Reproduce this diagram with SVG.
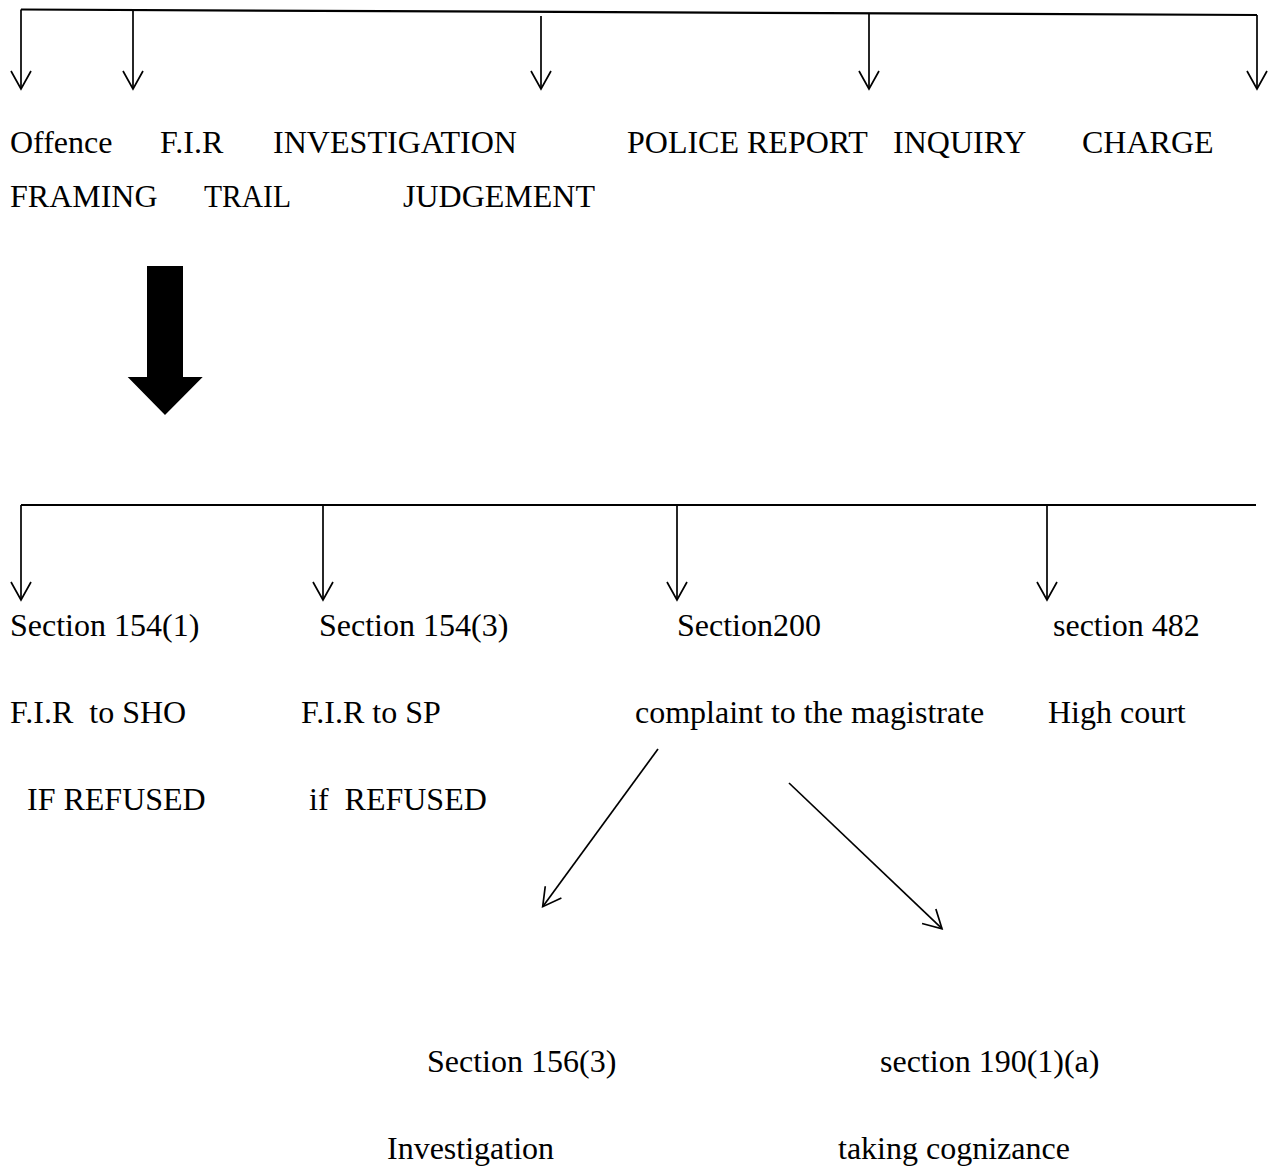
<svg xmlns="http://www.w3.org/2000/svg" width="1271" height="1169" viewBox="0 0 1271 1169">
  <style>
    text { font-family: "Liberation Serif", "Times New Roman", serif; font-size: 32px; fill: #000; white-space: pre; }
    .ln { stroke: #000; stroke-width: 1.7; fill: none; }
    .main { stroke: #000; stroke-width: 2.2; fill: none; }
  </style>
  <defs>
    <marker id="vhead" markerUnits="userSpaceOnUse" markerWidth="24" markerHeight="24" viewBox="-20 -12 24 24" refX="0" refY="0" orient="auto" overflow="visible">
      <path d="M -18 -10 L 0 0 L -18 10" fill="none" stroke="#000" stroke-width="1.7"/>
    </marker>
  </defs>
  <rect width="1271" height="1169" fill="#fff"/>

  <g id="connectors">
    <line class="main" x1="21" y1="9.5" x2="1257" y2="15"/>
    <line class="ln" x1="21" y1="9.5" x2="21" y2="89" marker-end="url(#vhead)"/>
    <line class="ln" x1="133" y1="10" x2="133" y2="89" marker-end="url(#vhead)"/>
    <line class="ln" x1="541" y1="16" x2="541" y2="89" marker-end="url(#vhead)"/>
    <line class="ln" x1="869" y1="13.5" x2="869" y2="89" marker-end="url(#vhead)"/>
    <line class="ln" x1="1257" y1="15" x2="1257" y2="89" marker-end="url(#vhead)"/>

    <path id="big-arrow" d="M147 266 H183 V377 H202.7 L165 415 L127.7 377 H147 Z" fill="#000"/>

    <line class="main" x1="21" y1="505" x2="1256" y2="505"/>
    <line class="ln" x1="21" y1="505" x2="21" y2="600" marker-end="url(#vhead)"/>
    <line class="ln" x1="323" y1="505" x2="323" y2="600" marker-end="url(#vhead)"/>
    <line class="ln" x1="677" y1="505" x2="677" y2="600" marker-end="url(#vhead)"/>
    <line class="ln" x1="1047" y1="505" x2="1047" y2="600" marker-end="url(#vhead)"/>

    <line class="ln" x1="658" y1="749" x2="542.7" y2="906.7" marker-end="url(#vhead)"/>
    <line class="ln" x1="789" y1="783" x2="942" y2="928.7" marker-end="url(#vhead)"/>
  </g>

  <g id="n-offence"><text x="10" y="152.5">Offence</text></g>
  <g id="n-fir"><text x="160" y="152.5">F.I.R</text></g>
  <g id="n-investigation"><text x="273" y="152.5" textLength="244" lengthAdjust="spacingAndGlyphs">INVESTIGATION</text></g>
  <g id="n-police-report"><text x="627" y="152.5">POLICE REPORT</text></g>
  <g id="n-inquiry"><text x="893" y="152.5">INQUIRY</text></g>
  <g id="n-charge"><text x="1082" y="152.5">CHARGE</text></g>
  <g id="n-framing"><text x="10" y="206.5">FRAMING</text></g>
  <g id="n-trail"><text x="204" y="206.5" textLength="87" lengthAdjust="spacingAndGlyphs">TRAIL</text></g>
  <g id="n-judgement"><text x="403" y="206.5">JUDGEMENT</text></g>

  <g id="n-s1541">
    <text x="10" y="636">Section 154(1)</text>
    <text x="10" y="723">F.I.R  to SHO</text>
    <text x="27" y="810">IF REFUSED</text>
  </g>
  <g id="n-s1543">
    <text x="319" y="636">Section 154(3)</text>
    <text x="301" y="723">F.I.R to SP</text>
    <text x="309" y="810">if  REFUSED</text>
  </g>
  <g id="n-s200">
    <text x="677" y="636">Section200</text>
    <text x="635" y="723">complaint to the magistrate</text>
  </g>
  <g id="n-s482">
    <text x="1053" y="636">section 482</text>
    <text x="1048" y="723">High court</text>
  </g>
  <g id="n-s1563">
    <text x="427" y="1072">Section 156(3)</text>
    <text x="387" y="1159">Investigation</text>
  </g>
  <g id="n-s1901a">
    <text x="880" y="1072">section 190(1)(a)</text>
    <text x="838" y="1159">taking cognizance</text>
  </g>
</svg>
